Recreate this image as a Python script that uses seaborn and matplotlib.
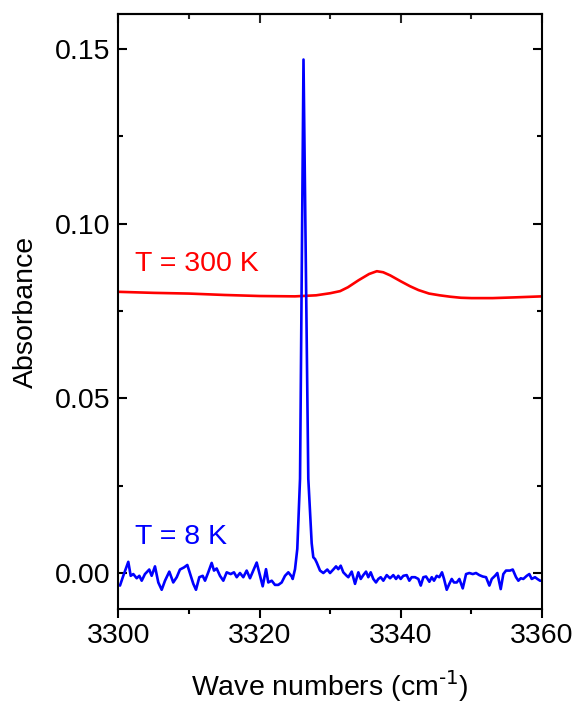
import numpy as np
import pandas as pd
import matplotlib
matplotlib.use('Agg')
import matplotlib.pyplot as plt
from matplotlib.ticker import MultipleLocator
import seaborn as sns

# T = 300 K spectrum (smooth)
red_wn = [3300.0, 3305.0, 3310.0, 3315.0, 3320.0, 3325.0, 3328.0, 3330.0, 3331.4,
          3332.5, 3334.0, 3335.5, 3336.6, 3337.5, 3338.5, 3340.0, 3341.3, 3342.5,
          3344.0, 3345.5, 3347.0, 3348.5, 3350.0, 3353.0, 3356.0, 3360.0]
red_abs = [0.0805, 0.0802, 0.0800, 0.0796, 0.0793, 0.0792, 0.0795, 0.0801, 0.0807,
           0.0818, 0.0838, 0.0856, 0.0864, 0.0861, 0.0852, 0.0835, 0.0821, 0.0810,
           0.0800, 0.0795, 0.0791, 0.0788, 0.0787, 0.0787, 0.0789, 0.0792]

# T = 8 K spectrum (noisy baseline + sharp line)
blue_wn = [3300.21, 3300.68, 3301.39, 3301.73, 3302.10, 3302.58, 3302.95, 3303.29, 3303.75,
           3304.36, 3304.70, 3305.17, 3305.64, 3306.12, 3306.59, 3307.20, 3307.76, 3308.25,
           3308.71, 3309.28, 3309.75, 3310.23, 3310.60, 3310.98, 3311.45, 3311.93, 3312.26,
           3312.72, 3313.20, 3313.53, 3313.91, 3314.38, 3314.85, 3315.33, 3315.90, 3316.36,
           3316.75, 3317.21, 3317.68, 3318.16, 3318.63, 3319.10, 3319.58, 3320.05, 3320.43,
           3320.90, 3321.22, 3321.71, 3322.17, 3322.64, 3323.12, 3323.59, 3324.06, 3324.54,
           3324.68, 3325.01, 3325.33, 3325.72, 3326.21, 3326.89, 3327.37, 3327.60, 3327.84,
           3328.08, 3328.55, 3329.02, 3329.58, 3329.97, 3330.43, 3330.82, 3331.14, 3331.48,
           3331.85, 3332.33, 3332.56, 3333.04, 3333.51, 3333.98, 3334.32, 3334.68, 3335.07,
           3335.39, 3335.73, 3336.10, 3336.48, 3336.81, 3337.15, 3337.52, 3338.00, 3338.47,
           3338.93, 3339.32, 3339.64, 3339.98, 3340.35, 3340.83, 3341.20, 3341.54, 3342.01,
           3342.48, 3342.82, 3343.19, 3343.57, 3344.04, 3344.38, 3344.70, 3345.08, 3345.45,
           3345.83, 3346.12, 3346.50, 3346.87, 3347.21, 3347.53, 3347.92, 3348.29, 3348.77,
           3349.24, 3349.70, 3350.19, 3350.65, 3351.12, 3351.60, 3352.07, 3352.54, 3352.88,
           3353.34, 3353.67, 3354.15, 3354.52, 3354.90, 3355.47, 3355.85, 3356.32, 3356.65,
           3356.99, 3357.35, 3357.84, 3358.20, 3358.54, 3359.01, 3359.34, 3359.72, 3359.96]
blue_abs = [-0.0036, -0.0008, 0.0032, -0.0008, -0.0003, -0.0015, -0.0008, -0.0022, -0.0003,
            0.0010, -0.0008, 0.0019, -0.0027, -0.0048, -0.0022, 0.0004, -0.0027, -0.0012,
            0.0010, 0.0016, 0.0023, -0.0008, -0.0031, -0.0048, -0.0012, -0.0008, -0.0022,
            0.0002, 0.0029, 0.0007, 0.0013, -0.0008, -0.0022, 0.0002, -0.0003, 0.0002,
            -0.0012, 0.0000, -0.0012, 0.0007, -0.0015, 0.0007, 0.0030, -0.0008, -0.0038,
            0.0011, -0.0027, -0.0022, -0.0034, -0.0034, -0.0027, -0.0008, 0.0002, -0.0010,
            -0.0017, 0.0011, 0.0069, 0.0270, 0.1470, 0.0270, 0.0085, 0.0045, 0.0040,
            0.0030, 0.0007, 0.0000, 0.0010, 0.0000, 0.0010, 0.0019, 0.0011, 0.0021,
            0.0002, -0.0008, -0.0012, 0.0004, -0.0031, 0.0002, -0.0017, -0.0006, 0.0004,
            -0.0012, 0.0002, -0.0017, -0.0027, -0.0017, -0.0012, -0.0022, -0.0006, -0.0015,
            -0.0006, -0.0017, -0.0008, -0.0017, -0.0008, -0.0006, -0.0022, -0.0012, -0.0012,
            -0.0017, -0.0036, -0.0012, -0.0010, -0.0025, -0.0012, -0.0022, -0.0008, -0.0012,
            0.0002, -0.0017, -0.0048, -0.0031, -0.0017, -0.0027, -0.0027, -0.0017, -0.0044,
            -0.0003, 0.0000, -0.0003, 0.0000, -0.0006, -0.0010, -0.0012, -0.0036, -0.0017,
            -0.0008, 0.0000, -0.0046, -0.0003, 0.0007, 0.0007, 0.0010, -0.0012, -0.0022,
            -0.0015, -0.0017, -0.0008, -0.0003, -0.0017, -0.0012, -0.0017, -0.0022, -0.0022]

labels = ['T = 300 K', 'T = 8 K']
FS = 20.5


def make_plot():
    sns.set_style('ticks')
    plt.rcParams['font.family'] = ['Liberation Sans', 'DejaVu Sans']
    plt.rcParams['mathtext.default'] = 'regular'
    plt.rcParams['text.color'] = 'black'
    plt.rcParams['axes.labelcolor'] = 'black'

    red_df = pd.DataFrame({'wn': red_wn, 'abs': red_abs})
    blue_df = pd.DataFrame({'wn': blue_wn, 'abs': blue_abs})

    fig = plt.figure(figsize=(5.76, 7.06), dpi=100)
    ax = fig.add_axes([0.2057, 0.1374, 0.7353, 0.8426])

    sns.lineplot(data=red_df, x='wn', y='abs', color='#ff0000', lw=1.9,
                 estimator=None, sort=False, ax=ax)
    sns.lineplot(data=blue_df, x='wn', y='abs', color='#0000ff', lw=1.9,
                 estimator=None, sort=False, ax=ax)

    ax.text(3302.3, 0.0866, labels[0], color='#ff0000', fontsize=FS)
    ax.text(3302.3, 0.0083, labels[1], color='#0000ff', fontsize=FS)

    ax.set_xlim(3300, 3360)
    ax.set_ylim(-0.0103, 0.160)
    ax.xaxis.set_major_locator(MultipleLocator(20))
    ax.xaxis.set_minor_locator(MultipleLocator(10))
    ax.yaxis.set_major_locator(MultipleLocator(0.05))
    ax.yaxis.set_minor_locator(MultipleLocator(0.025))
    ax.yaxis.set_major_formatter(matplotlib.ticker.FormatStrFormatter('%.2f'))

    for s in ax.spines.values():
        s.set_visible(True)
        s.set_linewidth(1.5)
        s.set_color('black')

    # left / top / right ticks point in, bottom ticks point out
    ax.tick_params(axis='y', which='both', direction='in', left=True, right=True,
                   width=1.5, labelsize=FS, colors='black', pad=6)
    ax.tick_params(axis='y', which='major', length=6.5)
    ax.tick_params(axis='y', which='minor', length=3.8)
    ax.tick_params(axis='x', which='both', direction='out', bottom=True, top=False,
                   width=1.5, labelsize=FS, colors='black')
    ax.tick_params(axis='x', which='major', length=6.5)
    ax.tick_params(axis='x', which='minor', length=3.8)

    # top ticks inward via secondary axis
    top = ax.secondary_xaxis('top')
    top.xaxis.set_major_locator(MultipleLocator(20))
    top.xaxis.set_minor_locator(MultipleLocator(10))
    top.tick_params(which='both', direction='in', width=1.5, labeltop=False)
    top.tick_params(which='major', length=6.5)
    top.tick_params(which='minor', length=3.8)
    top.spines['top'].set_linewidth(1.5)

    ax.set_xlabel(r'Wave numbers (cm$^{\text{-1}}$)', fontsize=FS, labelpad=14)
    ax.set_ylabel('Absorbance', fontsize=FS, labelpad=11)

    plt.savefig('out.png', dpi=100)


if __name__ == '__main__':
    make_plot()
